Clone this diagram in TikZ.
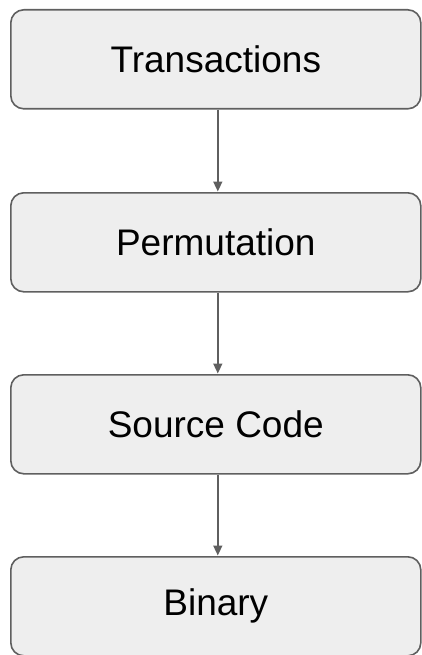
\documentclass[tikz,border=0pt]{standalone}
\usepackage{fontspec}
\setmainfont{Liberation Sans}
\usetikzlibrary{arrows.meta}
\definecolor{boxfill}{HTML}{EEEEEE}
\definecolor{boxline}{HTML}{5F5F5F}
\tikzset{
  stagebox/.style={draw=boxline, fill=boxfill, line width=1.6pt,
    rounded corners=13pt, minimum width=410pt, minimum height=99pt,
    inner sep=0pt, font=\fontsize{37}{40}\selectfont, anchor=north west},
  flow/.style={draw=boxline, line width=1.6pt,
    -{Triangle[length=10pt,width=9pt]}, shorten >=0.5pt}
}
\begin{document}
\begin{tikzpicture}[x=1pt,y=-1pt]
  \useasboundingbox (0,0) rectangle (421,655);
  \node[stagebox] (trans) at (10,9)   {Transactions};
  \node[stagebox] (perm)  at (10,192) {Permutation};
  \node[stagebox] (src)   at (10,374) {Source Code};
  \node[stagebox] (bin)   at (10,556) {Binary};
  \draw[flow] ([xshift=2pt]trans.south) -- ([xshift=2pt]perm.north);
  \draw[flow] ([xshift=2pt]perm.south)  -- ([xshift=2pt]src.north);
  \draw[flow] ([xshift=2pt]src.south)   -- ([xshift=2pt]bin.north);
\end{tikzpicture}
\end{document}
